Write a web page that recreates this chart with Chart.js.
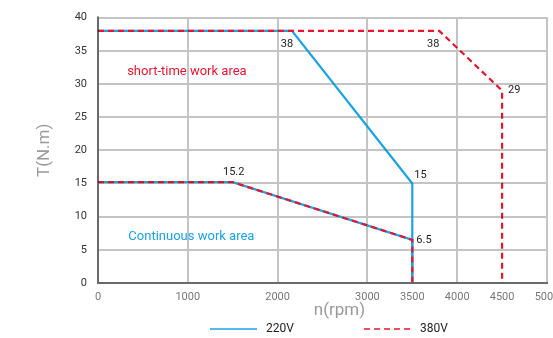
<!DOCTYPE html>
<html>
<head>
<meta charset="utf-8">
<script src="https://cdn.jsdelivr.net/npm/chart.js@4.4.1/dist/chart.umd.min.js"></script>
<style>
  html, body { margin: 0; padding: 0; background: #ffffff; }
  #wrap { width: 553px; height: 338px; position: relative; }
</style>
</head>
<body>
<div id="wrap"><canvas id="torque"></canvas></div>
<script>
// Speed axis tick labels (rpm) and torque axis range
const rpmTicks = [0, 1000, 2000, 3000, 3500, 4000, 4500, 5000];
const rpmGridStep = 1000;
const torqueMin = 0;
const torqueMax = 40;
const torqueStep = 5;

// 220V peak (short-time) torque curve
const peak220Rpm = [0, 2160, 3500, 3500];
const peak220Torque = [38, 38, 15, 0];

// 380V peak (short-time) torque curve
const peak380Rpm = [0, 3800, 4500, 4500];
const peak380Torque = [38, 38, 29, 0];

// Continuous (rated) torque curve, shared by both supply voltages
const contRpm = [0, 1500, 3500, 3500];
const contTorque = [15.2, 15.2, 6.5, 0];

// Series names
const seriesNames = ['220V', '380V'];

// Area captions and axis titles
const areaCaptions = ['short-time work area', 'Continuous work area'];
const xTitle = 'n(rpm)';

const BLUE = '#1ba3e6';
const RED = '#e8152f';
const GRID = 'rgb(196,196,196)';
const AXIS = 'rgb(106,106,106)';
const FONT = 'Roboto, "Open Sans", sans-serif';

function pts(xs, ys) { return xs.map((x, i) => ({ x: x, y: ys[i] })); }

// Value labels: which point of which curve gets a label, and where the text sits
const valueLabels = [
  { rpm: peak220Rpm[1], torque: peak220Torque[1], dx: -5, dy: 13, align: 'center' },
  { rpm: peak380Rpm[1], torque: peak380Torque[1], dx: -6, dy: 13, align: 'center' },
  { rpm: peak380Rpm[2], torque: peak380Torque[2], dx: 6, dy: 0, align: 'left' },
  { rpm: peak220Rpm[2], torque: peak220Torque[2], dx: 2, dy: -8, align: 'left' },
  { rpm: contRpm[2], torque: contTorque[2], dx: 4, dy: 0, align: 'left' },
  { rpm: contRpm[1], torque: contTorque[1], dx: 1, dy: -10, align: 'center' }
];

function strokeSeg(ctx, x1, y1, x2, y2, color) {
  ctx.beginPath();
  ctx.strokeStyle = color;
  ctx.moveTo(x1, y1);
  ctx.lineTo(x2, y2);
  ctx.stroke();
}

// Grid (x every 1000 rpm, y at every tick) and the dark left/bottom axis lines.
// Blended with 'darken' so the coloured curves stay on top of the grey.
function drawGrid(chart) {
  const ctx = chart.ctx, a = chart.chartArea;
  const xs = chart.scales.x, ys = chart.scales.y;
  ctx.save();
  ctx.globalCompositeOperation = 'darken';
  ctx.setLineDash([]);
  ctx.lineCap = 'butt';
  ctx.lineWidth = 2;
  xs.ticks.forEach(t => {
    if (t.value % rpmGridStep !== 0 || t.value === xs.min) return;
    const px = Math.round(xs.getPixelForValue(t.value));
    strokeSeg(ctx, px, a.top, px, a.bottom, GRID);
  });
  ys.ticks.forEach(t => {
    if (t.value === ys.min) return;
    const py = Math.round(ys.getPixelForValue(t.value));
    strokeSeg(ctx, a.left, py, a.right, py, GRID);
  });
  strokeSeg(ctx, a.left, a.top - 1, a.left, a.bottom + 1, AXIS);
  strokeSeg(ctx, a.left - 1, a.bottom, a.right + 1, a.bottom, AXIS);
  ctx.restore();
}

// Grid, value labels, area captions, x title and the legend row
const overlayPlugin = {
  id: 'curveOverlay',
  afterDatasetsDraw(chart) {
    drawGrid(chart);
    const ctx = chart.ctx, a = chart.chartArea;
    const xs = chart.scales.x, ys = chart.scales.y;
    ctx.save();
    ctx.textBaseline = 'middle';
    ctx.font = '11px ' + FONT;
    ctx.fillStyle = '#222222';
    valueLabels.forEach(l => {
      ctx.textAlign = l.align;
      ctx.fillText(String(l.torque), xs.getPixelForValue(l.rpm) + l.dx, ys.getPixelForValue(l.torque) + l.dy);
    });
    ctx.font = '13px ' + FONT;
    ctx.textAlign = 'center';
    ctx.fillStyle = RED;
    ctx.fillText(areaCaptions[0], xs.getPixelForValue(990), ys.getPixelForValue(31.8));
    ctx.fillStyle = BLUE;
    ctx.fillText(areaCaptions[1], xs.getPixelForValue(1040), ys.getPixelForValue(7.0));

    // x axis title
    ctx.font = '17px ' + FONT;
    ctx.fillStyle = '#9a9a9a';
    ctx.fillText(xTitle, (a.left + a.right) / 2 + 17, a.bottom + 28);

    // legend: one entry per named series
    const legendY = chart.height - 9;
    const entries = chart.data.datasets.filter(d => d.showInLegend);
    let x = 210;
    ctx.font = '12px ' + FONT;
    ctx.textAlign = 'left';
    entries.forEach(d => {
      ctx.beginPath();
      ctx.setLineDash(d.borderDash || []);
      ctx.strokeStyle = d.borderColor;
      ctx.lineWidth = 1.5;
      ctx.moveTo(x, legendY);
      ctx.lineTo(x + 47, legendY);
      ctx.stroke();
      ctx.setLineDash([]);
      ctx.fillStyle = '#222222';
      ctx.fillText(d.label, x + 56, legendY);
      x += 154;
    });
    ctx.restore();
  }
};

new Chart(document.getElementById('torque'), {
  type: 'line',
  data: {
    datasets: [
      { label: seriesNames[0], data: pts(peak220Rpm, peak220Torque), borderColor: BLUE, borderWidth: 2.2, order: 2, showInLegend: true },
      { label: seriesNames[0] + ' cont', data: pts(contRpm, contTorque), borderColor: BLUE, borderWidth: 2.2, order: 2, showInLegend: false },
      { label: seriesNames[1], data: pts(peak380Rpm, peak380Torque), borderColor: RED, borderWidth: 2.2, borderDash: [6, 4], order: 1, showInLegend: true },
      { label: seriesNames[1] + ' cont', data: pts(contRpm, contTorque), borderColor: RED, borderWidth: 2.2, borderDash: [6, 4], order: 1, showInLegend: false }
    ]
  },
  options: {
    responsive: true,
    maintainAspectRatio: false,
    animation: false,
    layout: { padding: { left: 0, right: 6, top: 12, bottom: 15 } },
    elements: {
      point: { radius: 0, hoverRadius: 0 },
      line: { tension: 0, borderCapStyle: 'butt', borderJoinStyle: 'miter' }
    },
    plugins: {
      tooltip: { enabled: false },
      legend: { display: false }
    },
    scales: {
      x: {
        type: 'linear',
        min: rpmTicks[0],
        max: rpmTicks[rpmTicks.length - 1],
        afterBuildTicks(scale) { scale.ticks = rpmTicks.map(v => ({ value: v })); },
        ticks: {
          autoSkip: false,
          maxRotation: 0,
          padding: 8,
          color: '#777777',
          font: { family: FONT, size: 11 },
          callback: v => String(v)
        },
        grid: { display: false, drawTicks: false },
        border: { display: false },
        title: { display: false },
        afterFit(scale) {
          scale.height = 40;
          scale.paddingLeft = 0;
          scale.paddingRight = 0;
        }
      },
      y: {
        type: 'linear',
        min: torqueMin,
        max: torqueMax,
        ticks: {
          stepSize: torqueStep,
          padding: 11,
          color: '#333333',
          font: { family: FONT, size: 11 }
        },
        grid: { display: false, drawTicks: false },
        border: { display: false },
        title: {
          display: true,
          text: 'T(N.m)',
          color: '#9a9a9a',
          padding: { top: 35, bottom: 0 },
          font: { family: FONT, size: 17 }
        },
        afterFit(scale) { scale.width = 98; }
      }
    }
  },
  plugins: [overlayPlugin]
});
</script>
</body>
</html>
